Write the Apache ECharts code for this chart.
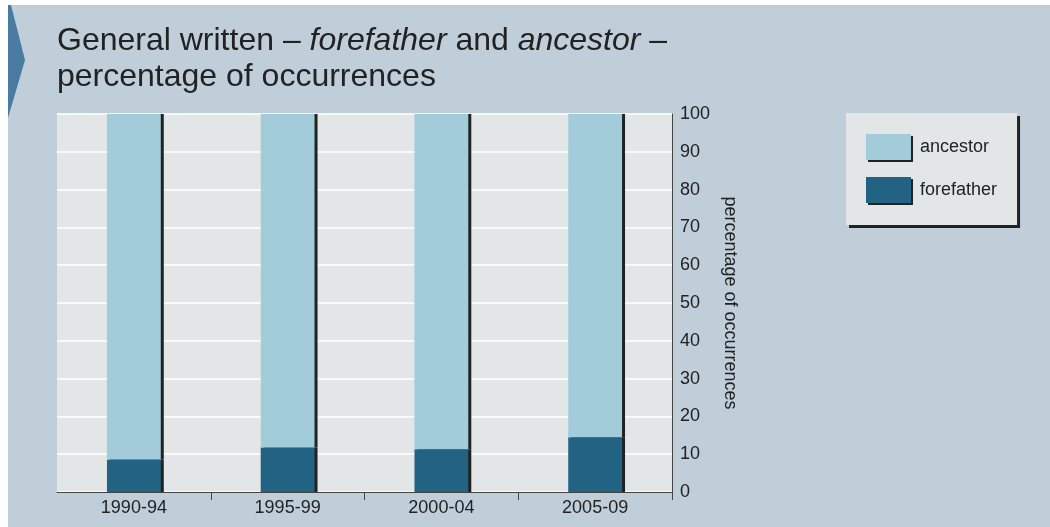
<!DOCTYPE html>
<html><head><meta charset="utf-8">
<script src="https://cdn.jsdelivr.net/npm/echarts@6/dist/echarts.min.js"></script>
<style>html,body{margin:0;padding:0;background:#fff}#c{width:1050px;height:527px}</style>
</head><body><div id="c"></div>
<script>
const categories = ['1990-94', '1995-99', '2000-04', '2005-09'];
const forefather = [8.6, 11.8, 11.3, 14.5];
const ancestor = [91.4, 88.2, 88.7, 85.5];
const seriesNames = ['ancestor', 'forefather'];
const axisName = 'percentage of occurrences';

const SANS = "'Liberation Sans', Arial, sans-serif";
const BG = '#c0ceda';
const PLOT = '#e2e6e6';
const shadow = { shadowColor: '#222', shadowOffsetX: 3, shadowOffsetY: 0, shadowBlur: 0 };

const chart = echarts.init(document.getElementById('c'), null, { renderer: 'canvas' });
chart.setOption({
  backgroundColor: '#ffffff',
  animation: false,
  graphic: [
    { type: 'rect', z: -100, shape: { x: 8, y: 5, width: 1042, height: 522 }, style: { fill: BG }, silent: true },
    { type: 'polygon', z: -99, shape: { points: [[8, 5], [11, 5], [25, 60], [8, 118]] }, style: { fill: '#4a7ba0' }, silent: true }
  ],
  title: {
    left: 57, top: 23, padding: 0,
    text: '{n|General written – }{i|forefather}{n| and }{i|ancestor}{n| –}\n{n|percentage of occurrences}',
    textStyle: {
      fontFamily: SANS, fontSize: 32, color: '#222', fontWeight: 'normal', lineHeight: 36,
      rich: {
        n: { fontFamily: SANS, fontSize: 32, color: '#222', lineHeight: 36 },
        i: { fontFamily: SANS, fontSize: 32, color: '#222', fontStyle: 'italic', lineHeight: 36 }
      }
    }
  },
  legend: {
    data: seriesNames,
    orient: 'vertical',
    left: 846, top: 113,
    padding: [21, 20, 22, 20],
    itemWidth: 45, itemHeight: 26, itemGap: 17,
    icon: 'rect',
    backgroundColor: PLOT,
    shadowColor: '#222', shadowOffsetX: 3, shadowOffsetY: 3, shadowBlur: 0,
    selectedMode: false,
    itemStyle: { shadowColor: '#222', shadowOffsetX: 2, shadowOffsetY: 2, shadowBlur: 0 },
    textStyle: { fontFamily: SANS, fontSize: 18, color: '#222', padding: [0, 0, 0, 4] }
  },
  grid: {
    left: 57, right: 378, top: 114, bottom: 35,
    show: true, backgroundColor: PLOT, borderWidth: 0
  },
  xAxis: {
    type: 'category',
    data: categories,
    axisLine: { lineStyle: { color: '#444', width: 1 } },
    axisTick: { show: true, length: 8, lineStyle: { color: '#444' }, interval: function (i) { return i > 0; } },
    axisLabel: { fontFamily: SANS, fontSize: 18, color: '#222', margin: 7 }
  },
  yAxis: {
    type: 'value',
    position: 'right',
    min: 0, max: 100, interval: 10,
    name: axisName,
    nameLocation: 'middle',
    nameRotate: -90,
    nameGap: 33,
    nameTextStyle: { fontFamily: SANS, fontSize: 18, color: '#222' },
    axisLine: { show: true, lineStyle: { color: '#444', width: 1 } },
    axisTick: { show: false },
    axisLabel: { fontFamily: SANS, fontSize: 18, color: '#222', margin: 8 },
    splitLine: { show: true, lineStyle: { color: '#ffffff', width: 1.5 } }
  },
  series: [
    {
      name: 'forefather', type: 'bar', stack: 'total', data: forefather, barWidth: '35%',
      itemStyle: Object.assign({ color: '#226383' }, shadow),
      emphasis: { disabled: true }
    },
    {
      name: 'ancestor', type: 'bar', stack: 'total', data: ancestor, barWidth: '35%',
      itemStyle: Object.assign({ color: '#a2ccd9' }, shadow),
      emphasis: { disabled: true }
    }
  ]
});
</script></body></html>
